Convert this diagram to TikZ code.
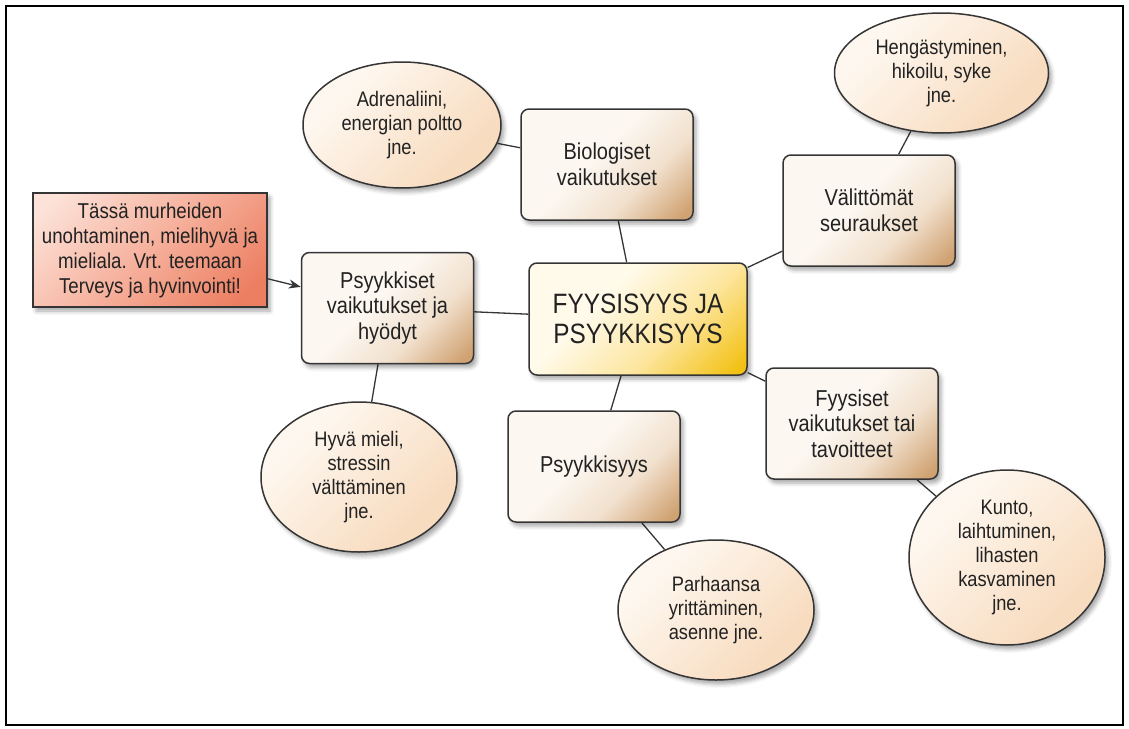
\documentclass[tikz,border=0pt]{standalone}
\usepackage{fontspec}
\newfontfamily\diagfont{Liberation Sans}[FakeStretch=0.87]
\usetikzlibrary{shapes.geometric,shadows.blur,arrows.meta,backgrounds}

% palette
\definecolor{tanL}{HTML}{FCF7F1}
\definecolor{tanM}{HTML}{F1E0CD}
\definecolor{tanD}{HTML}{D0A272}
\definecolor{goldL}{HTML}{FFFAEA}
\definecolor{goldM}{HTML}{FDE6A0}
\definecolor{goldD}{HTML}{F2C010}
\definecolor{redL}{HTML}{FCE2D8}
\definecolor{redM}{HTML}{F6B09C}
\definecolor{redD}{HTML}{EC7F62}
\definecolor{peachL}{HTML}{FEF7EF}
\definecolor{peachD}{HTML}{F8DCC0}
\definecolor{edge}{HTML}{353535}
\definecolor{ink}{HTML}{222222}

% diagonal fills, dark corner at the lower right
\pgfdeclareverticalshading{topicshade}{100bp}{color(0bp)=(tanD); color(18bp)=(tanD); color(36bp)=(tanM); color(55bp)=(tanL); color(100bp)=(tanL)}
\pgfdeclareverticalshading{coreshade}{100bp}{color(0bp)=(goldD); color(17bp)=(goldD); color(40bp)=(goldM); color(62bp)=(goldL); color(100bp)=(goldL)}
\pgfdeclareverticalshading{noteshade}{100bp}{color(0bp)=(redD); color(22bp)=(redD); color(50bp)=(redM); color(80bp)=(redL); color(100bp)=(redL)}
\pgfdeclareverticalshading{bubbleshade}{100bp}{color(0bp)=(peachD); color(30bp)=(peachD); color(70bp)=(peachL); color(100bp)=(peachL)}

\tikzset{
  txt/.style={font=\diagfont\fontsize{23}{25.5}\selectfont, text=ink, align=center, inner sep=0pt},
  softshadow/.style={blur shadow={shadow xshift=3pt, shadow yshift=-4pt, shadow blur radius=4pt, shadow opacity=35}},
  topic/.style={txt, draw=edge, line width=1.5pt, rounded corners=8pt,
    minimum width=172pt, minimum height=111pt, shading=topicshade, shading angle=45, softshadow},
  core/.style={topic, shading=coreshade, shading angle=45, minimum width=218pt, minimum height=112pt,
    font=\diagfont\fontsize{28}{30}\selectfont},
  note/.style={txt, draw=edge, line width=1.5pt, minimum width=234pt, minimum height=114pt,
    shading=noteshade, shading angle=45, softshadow, font=\diagfont\fontsize{21.5}{25}\selectfont},
  bubble/.style={txt, ellipse, draw=edge, line width=1.5pt, shading=bubbleshade, shading angle=45, softshadow,
    font=\diagfont\fontsize{21}{24}\selectfont},
  link/.style={draw=edge, line width=1.3pt},
  pointer/.style={link, -{Stealth[length=12pt,width=9pt]}}
}

\begin{document}
\begin{tikzpicture}[x=1pt,y=-1pt]
\useasboundingbox (0,0) rectangle (1129,728);
\draw[line width=2pt, black] (6,6) rectangle (1123,725);

% central topic and main branches
\node[core]  (core)  at (638,319)   {FYYSISYYS JA\\PSYYKKISYYS};
\node[topic] (bio)   at (607,164.5) {Biologiset\\vaikutukset};
\node[topic] (valit) at (869,210.5) {Välittömät\\seuraukset};
\node[topic] (psyk)  at (387.5,308) {Psyykkiset\\vaikutukset ja\\hyödyt};
\node[topic] (psyy)  at (594,466.5) {Psyykkisyys};
\node[topic] (fyys)  at (852,423.5) {Fyysiset\\vaikutukset tai\\tavoitteet};

% side note
\node[note] (huom) at (150,250) {Tässä murheiden\\unohtaminen, mielihyvä ja\\mieliala. Vrt. teemaan\\Terveys ja hyvinvointi!};

% example bubbles
\node[bubble, minimum width=198pt, minimum height=126pt] (adre)  at (402,125)   {Adrenaliini,\\energian poltto\\jne.};
\node[bubble, minimum width=214pt, minimum height=120pt] (heng)  at (941.5,73)  {Hengästyminen,\\hikoilu, syke\\jne.};
\node[bubble, minimum width=196pt, minimum height=150pt] (hyva)  at (359,477)   {Hyvä mieli,\\stressin\\välttäminen\\jne.};
\node[bubble, minimum width=196pt, minimum height=140pt] (parh)  at (716,610)   {Parhaansa\\yrittäminen,\\asenne jne.};
\node[bubble, minimum width=196pt, minimum height=175pt] (kunto) at (1007,557.5) {Kunto,\\laihtuminen,\\lihasten\\kasvaminen\\jne.};

% connectors, kept under the shapes
\begin{pgfonlayer}{background}
  \draw[link] (core) -- (bio);
  \draw[link] (core) -- (valit);
  \draw[link] (core) -- (psyk);
  \draw[link] (core) -- (psyy);
  \draw[link] (core) -- (fyys);
  \draw[link] (bio) -- (adre);
  \draw[link] (valit) -- (heng);
  \draw[link] (psyk) -- (hyva);
  \draw[link] (psyy) -- (parh);
  \draw[link] (fyys) -- (kunto);
\end{pgfonlayer}
\draw[pointer] (huom) -- (psyk);
\end{tikzpicture}
\end{document}
